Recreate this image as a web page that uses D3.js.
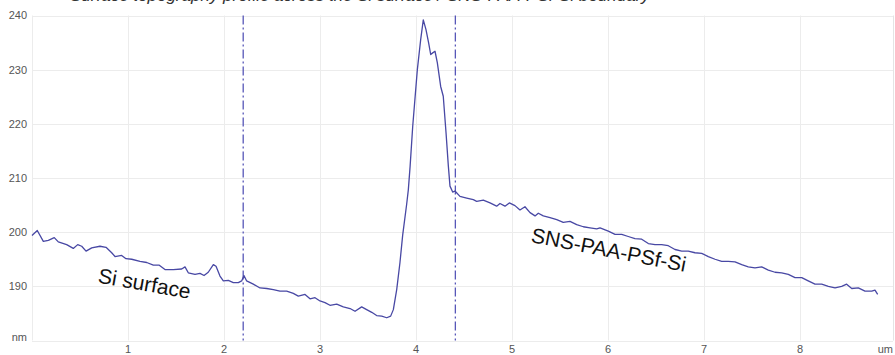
<!DOCTYPE html>
<html>
<head>
<meta charset="utf-8">
<script src="https://cdn.jsdelivr.net/npm/d3@7"></script>
<style>
  html, body { margin: 0; padding: 0; background: #fff; }
  svg { display: block; }
</style>
</head>
<body>
<div id="chart"></div>
<script>

// profile along the scan line: position (um) and height (nm)
var depthUm = [
  0.00, 0.055, 0.118, 0.17, 0.232, 0.274, 0.361, 0.43, 0.476, 0.518, 0.563, 0.622, 0.708, 0.771,
  0.83, 0.865, 0.934, 0.979, 1.039, 1.125, 1.195, 1.264, 1.326, 1.385, 1.472, 1.559, 1.594, 1.628,
  1.698, 1.75, 1.792, 1.836, 1.889, 1.917, 1.958, 1.993, 2.045, 2.097, 2.149, 2.184, 2.208, 2.236,
  2.305, 2.375, 2.445, 2.514, 2.583, 2.653, 2.722, 2.774, 2.844, 2.896, 2.948, 3.0, 3.052, 3.104,
  3.174, 3.243, 3.313, 3.365, 3.434, 3.486, 3.539, 3.59, 3.643, 3.695, 3.736, 3.764, 3.799, 3.833,
  3.861, 3.903, 3.92, 3.938, 3.966, 4.014, 4.049, 4.076, 4.104, 4.132, 4.153, 4.174, 4.198, 4.222,
  4.257, 4.284, 4.313, 4.337, 4.354, 4.382, 4.406, 4.458, 4.528, 4.597, 4.632, 4.701, 4.771, 4.84,
  4.875, 4.927, 4.972, 5.031, 5.083, 5.135, 5.188, 5.24, 5.274, 5.326, 5.396, 5.466, 5.534, 5.604,
  5.674, 5.743, 5.813, 5.882, 5.917, 6.003, 6.073, 6.143, 6.211, 6.281, 6.351, 6.42, 6.49, 6.559,
  6.628, 6.698, 6.768, 6.836, 6.906, 6.976, 7.045, 7.115, 7.184, 7.253, 7.323, 7.393, 7.461, 7.531,
  7.601, 7.67, 7.74, 7.809, 7.878, 7.948, 8.018, 8.086, 8.156, 8.226, 8.295, 8.365, 8.434, 8.486,
  8.539, 8.607, 8.677, 8.747, 8.781, 8.809
];
var heightNm = [
  199.4, 200.3, 198.3, 198.5, 199.0, 198.2, 197.7, 197.0, 197.7, 197.4, 196.5, 197.1, 197.4, 197.2,
  196.2, 195.5, 195.7, 195.1, 195.0, 194.6, 194.4, 193.9, 193.9, 193.1, 193.1, 193.2, 193.6, 192.5,
  192.2, 192.4, 192.0, 192.6, 194.0, 193.7, 191.9, 191.0, 191.1, 190.7, 190.7, 191.0, 192.0, 191.0,
  190.4, 189.7, 189.6, 189.4, 189.1, 189.1, 188.7, 188.2, 188.5, 187.7, 187.9, 187.3, 187.0, 186.5,
  186.7, 186.2, 185.9, 185.4, 186.2, 185.7, 185.2, 184.6, 184.5, 184.2, 184.5, 185.7, 189.4, 194.4,
  199.4, 205.2, 207.8, 212.0, 219.6, 230.0, 235.6, 239.2, 237.4, 234.9, 232.8, 233.1, 233.4, 231.3,
  226.9, 225.1, 218.3, 212.2, 208.5, 207.4, 207.6, 206.6, 206.3, 206.0, 205.7, 205.9, 205.4, 204.8,
  205.3, 204.8, 205.4, 204.9, 204.1, 204.7, 203.6, 203.0, 203.5, 203.0, 202.7, 202.3, 201.8, 202.0,
  201.4, 201.0, 200.8, 200.6, 200.8, 200.2, 199.6, 199.6, 199.2, 198.8, 198.7, 197.9, 197.7, 197.7,
  197.5, 196.8, 196.5, 196.5, 196.2, 196.1, 195.5, 195.0, 194.6, 194.6, 194.5, 194.0, 193.6, 193.4,
  193.6, 193.0, 192.6, 192.5, 192.2, 191.6, 191.6, 191.0, 190.4, 190.4, 190.0, 189.7, 190.0, 190.4,
  189.6, 189.7, 189.1, 189.1, 189.3, 188.5
];

// boundaries marked by dash-dot lines (um)
var markerUm = [2.2, 4.41];

var xTicks = [1, 2, 3, 4, 5, 6, 7, 8];
var yTicks = [190, 200, 210, 220, 230, 240];
var xUnit = "um";
var yUnit = "nm";

var regionLabels = [
  { text: "Si surface", x: 0.68, y: 190.7, angle: 10 },
  { text: "SNS-PAA-PSf-Si", x: 5.19, y: 198.2, angle: 11 }
];

var titleText = "Surface topography profile across the Si surface / SNS-PAA-PSf-Si boundary";

var width = 895, height = 355;
var lineColor = "#4848a4";

var svg = d3.select("#chart").append("svg")
  .attr("width", width)
  .attr("height", height);

var x = d3.scaleLinear().domain([0, 9]).range([32, 896]);
var y = d3.scaleLinear().domain([180, 240]).range([340.5, 15.5]);

// title, mostly above the top edge as in the source figure
svg.append("text")
  .attr("x", 70).attr("y", 1)
  .style("font-family", "Liberation Sans, Arial, sans-serif")
  .style("font-style", "italic")
  .style("font-size", "17px")
  .style("fill", "#333")
  .text(titleText);

// grid
svg.append("g").selectAll("line.h")
  .data([180].concat(yTicks)).enter().append("line")
  .attr("x1", x(0)).attr("x2", 893)
  .attr("y1", function (d) { return Math.round(y(d)) + 0.5; })
  .attr("y2", function (d) { return Math.round(y(d)) + 0.5; })
  .style("stroke", "#ececec").style("stroke-width", 1);

svg.append("g").selectAll("line.v")
  .data([0].concat(xTicks)).enter().append("line")
  .attr("x1", function (d) { return Math.round(x(d)) + 0.5; })
  .attr("x2", function (d) { return Math.round(x(d)) + 0.5; })
  .attr("y1", y(240)).attr("y2", y(180))
  .style("stroke", "#ececec").style("stroke-width", 1);

svg.append("line")
  .attr("x1", 893.5).attr("x2", 893.5)
  .attr("y1", y(240)).attr("y2", y(180))
  .style("stroke", "#e4e4e4");

// tick labels
var tickFont = "Liberation Sans Narrow, Liberation Sans, Arial, sans-serif";

svg.append("g").selectAll("text")
  .data(yTicks).enter().append("text")
  .attr("x", 27).attr("y", function (d) { return y(d); })
  .attr("dy", "0.35em")
  .style("text-anchor", "end")
  .style("font-family", tickFont).style("font-size", "11px")
  .style("fill", "#555")
  .text(function (d) { return d; });

svg.append("text")
  .attr("x", 27).attr("y", y(180) - 3)
  .attr("dy", "0.35em")
  .style("text-anchor", "end")
  .style("font-family", tickFont).style("font-size", "11px")
  .style("fill", "#555")
  .text(yUnit);

svg.append("g").selectAll("text")
  .data(xTicks).enter().append("text")
  .attr("x", function (d) { return x(d); }).attr("y", 353)
  .style("text-anchor", "middle")
  .style("font-family", tickFont).style("font-size", "11px")
  .style("fill", "#555")
  .text(function (d) { return d; });

svg.append("text")
  .attr("x", 893).attr("y", 353)
  .style("text-anchor", "end")
  .style("font-family", tickFont).style("font-size", "11px")
  .style("fill", "#555")
  .text(xUnit);

// dash-dot boundary markers
svg.append("g").selectAll("line")
  .data(markerUm).enter().append("line")
  .attr("x1", function (d) { return x(d); })
  .attr("x2", function (d) { return x(d); })
  .attr("y1", y(240)).attr("y2", y(180))
  .style("stroke", "#5757b8").style("stroke-width", 1.3)
  .style("stroke-dasharray", "9,3,2,3");

// profile
var profile = depthUm.map(function (d, i) { return [d, heightNm[i]]; });

var line = d3.line()
  .x(function (d) { return x(d[0]); })
  .y(function (d) { return y(d[1]); });

svg.append("path")
  .datum(profile)
  .attr("d", line)
  .style("fill", "none")
  .style("stroke", lineColor)
  .style("stroke-width", 1.3)
  .style("stroke-linejoin", "round");

// region annotations
svg.append("g").selectAll("text")
  .data(regionLabels).enter().append("text")
  .attr("transform", function (d) {
    return "translate(" + x(d.x) + "," + y(d.y) + ") rotate(" + d.angle + ")";
  })
  .style("font-family", "Liberation Sans, Arial, sans-serif")
  .style("font-size", "21px")
  .style("fill", "#111")
  .text(function (d) { return d.text; });

</script>
</body>
</html>
